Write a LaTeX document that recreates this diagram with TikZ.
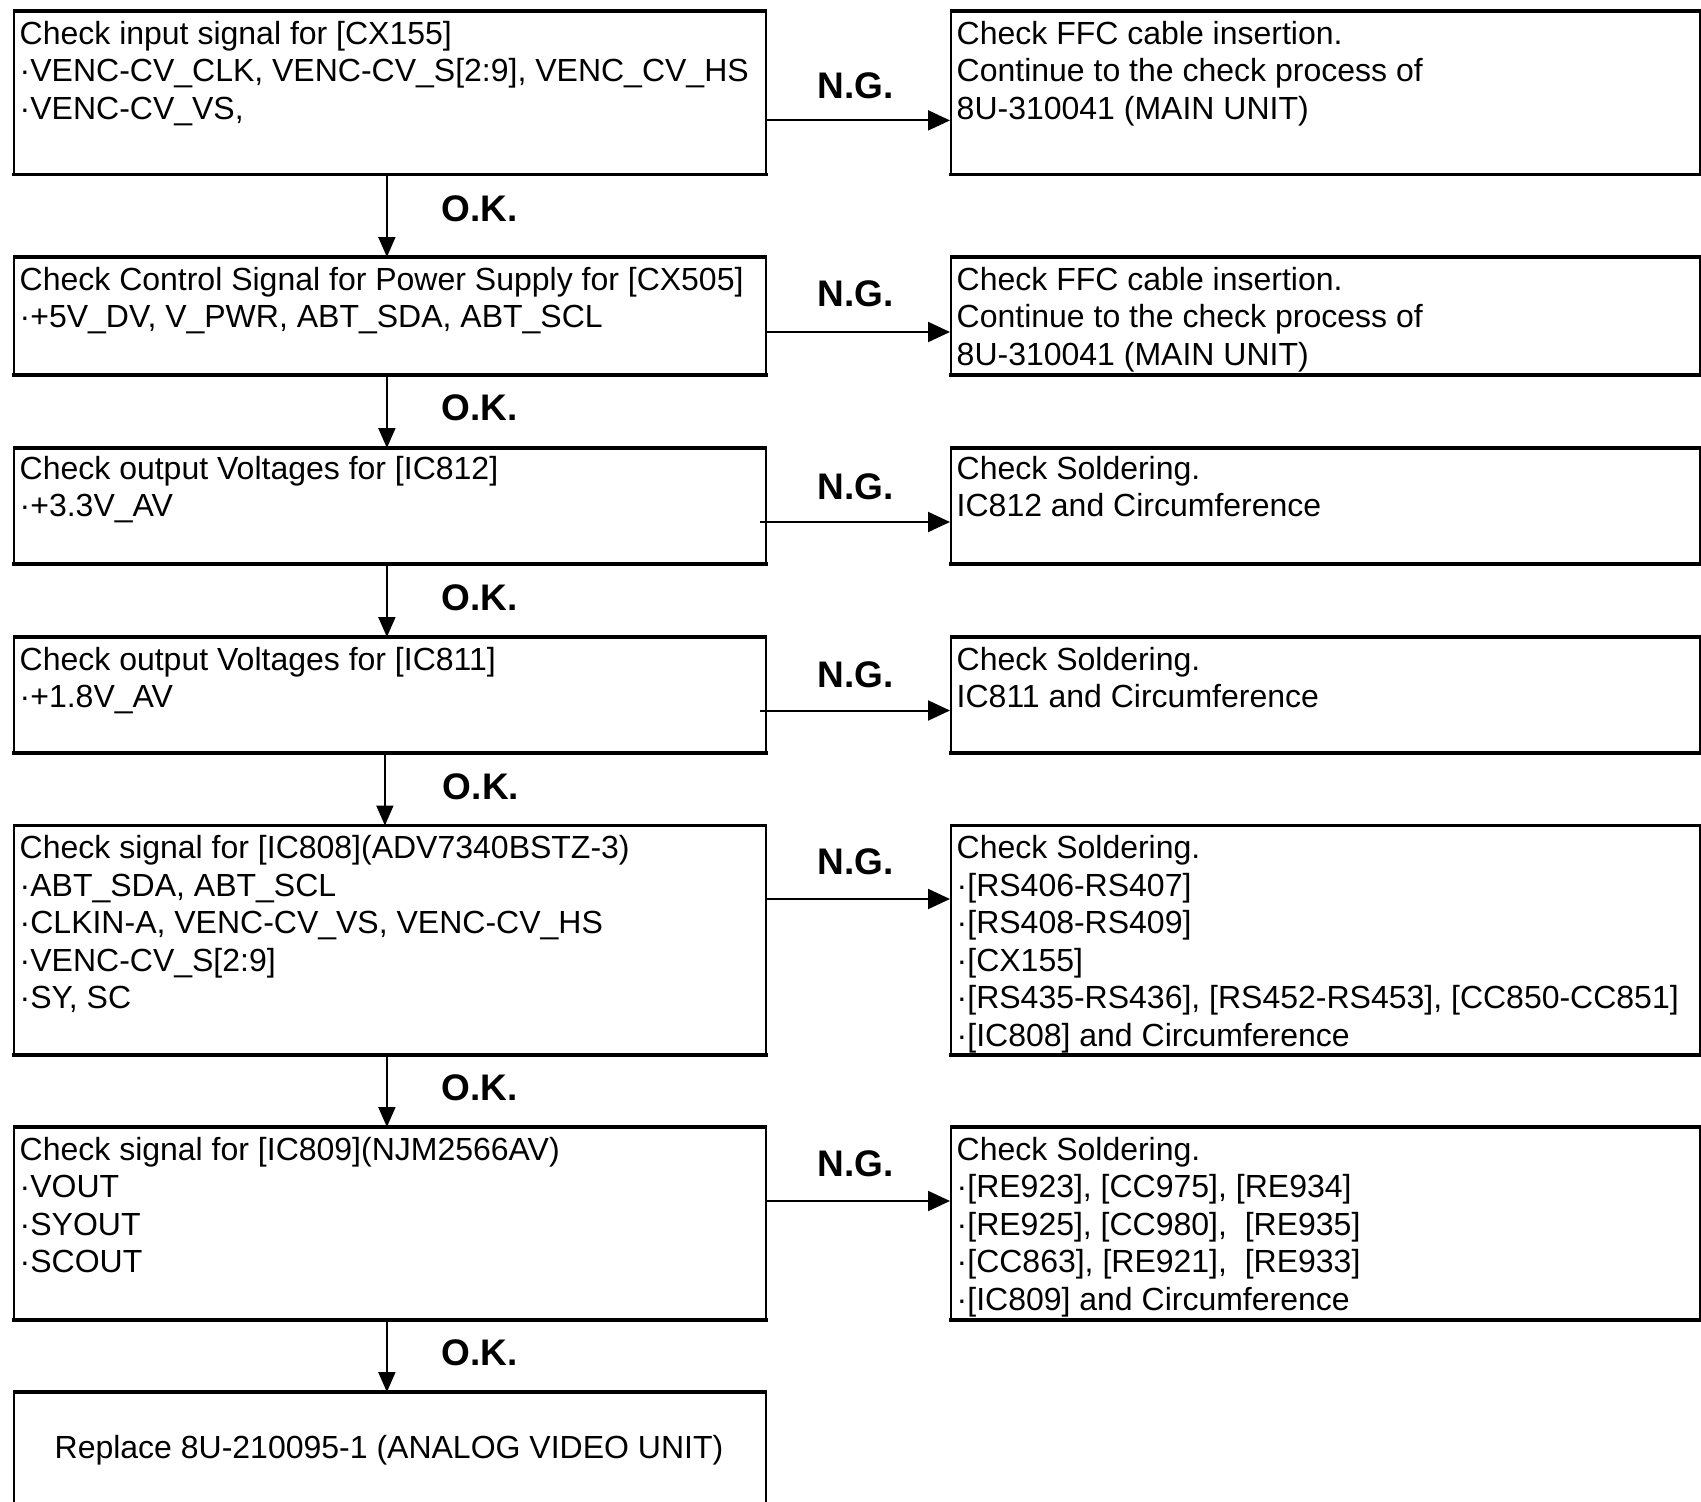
\documentclass[tikz,border=0pt]{standalone}
\usepackage{fontspec}
\setmainfont{Liberation Sans}
\usetikzlibrary{arrows.meta}
\begin{document}
\begin{tikzpicture}[x=1pt,y=-1pt,
  lbox/.style={draw, line width=1.8pt, rectangle, minimum width=752pt, inner sep=0pt, anchor=north west},
  rbox/.style={draw, line width=1.8pt, rectangle, minimum width=749pt, inner sep=0pt, anchor=north west},
  hline/.style={line width=3.6pt, line cap=butt, shorten <=-0.9pt, shorten >=-0.9pt},
  txt/.style={anchor=north west, inner sep=0pt, align=left, font=\fontsize{32}{37.5}\selectfont, execute at begin node={\rule{0pt}{26pt}}},
  lab/.style={inner sep=0pt, font=\fontsize{37}{40}\selectfont\bfseries},
  ngarrow/.style={line width=2pt, -{Triangle[length=22pt,width=20pt]}},
  okarrow/.style={line width=2pt, -{Triangle[length=20pt,width=17pt]}}
]
\clip (0,0) rectangle (1701,1502);
% left boxes
\node[lbox, minimum height=161.5pt] (L1) at (13,11) {};
\node[lbox, minimum height=116pt] (L2) at (13,257) {};
\node[lbox, minimum height=114pt] (L3) at (13,448) {};
\node[lbox, minimum height=114pt] (L4) at (13,637) {};
\node[lbox, minimum height=227.5pt] (L5) at (13,825.5) {};
\node[lbox, minimum height=191pt] (L6) at (13,1127) {};
\node[lbox, minimum height=150pt] (L7) at (13,1392) {};
% right boxes
\node[rbox, minimum height=161.5pt] (R1) at (950,11) {};
\node[rbox, minimum height=116pt] (R2) at (950,257) {};
\node[rbox, minimum height=114pt] (R3) at (950,448) {};
\node[rbox, minimum height=114pt] (R4) at (950,637) {};
\node[rbox, minimum height=227.5pt] (R5) at (950,825.5) {};
\node[rbox, minimum height=191pt] (R6) at (950,1127) {};
\foreach \b in {L1,L2,L3,L4,L5,L6,L7,R1,R2,R3,R4,R5,R6}
  \draw[hline] (\b.north west) -- (\b.north east) (\b.south west) -- (\b.south east);
% texts
\node[txt] (t1) at ([shift={(6.5,10)}]L1.north west) {Check input signal for [CX155]\\·VENC-CV\_CLK, VENC-CV\_S[2:9], VENC\_CV\_HS\\·VENC-CV\_VS,};
\node[txt] (t2) at ([shift={(6.5,10)}]L2.north west) {Check Control Signal for Power Supply for [CX505]\\·+5V\_DV, V\_PWR, ABT\_SDA, ABT\_SCL};
\node[txt] (t3) at ([shift={(6.5,8)}]L3.north west) {Check output Voltages for [IC812]\\·+3.3V\_AV};
\node[txt] (t4) at ([shift={(6.5,10)}]L4.north west) {Check output Voltages for [IC811]\\·+1.8V\_AV};
\node[txt] (t5) at ([shift={(6.5,10)}]L5.north west) {Check signal for [IC808](ADV7340BSTZ-3)\\·ABT\_SDA, ABT\_SCL\\·CLKIN-A, VENC-CV\_VS, VENC-CV\_HS\\·VENC-CV\_S[2:9]\\·SY, SC};
\node[txt] (t6) at ([shift={(6.5,10)}]L6.north west) {Check signal for [IC809](NJM2566AV)\\·VOUT\\·SYOUT\\·SCOUT};
\node[inner sep=0pt, font=\fontsize{32}{37.5}\selectfont] (t7) at (389,1450) {Replace 8U-210095-1 (ANALOG VIDEO UNIT)};
\node[txt] (u1) at ([shift={(6.5,10)}]R1.north west) {Check FFC cable insertion.\\Continue to the check process of\\8U-310041 (MAIN UNIT)};
\node[txt] (u2) at ([shift={(6.5,10)}]R2.north west) {Check FFC cable insertion.\\Continue to the check process of\\8U-310041 (MAIN UNIT)};
\node[txt] (u3) at ([shift={(6.5,8)}]R3.north west) {Check Soldering.\\IC812 and Circumference};
\node[txt] (u4) at ([shift={(6.5,10)}]R4.north west) {Check Soldering.\\IC811 and Circumference};
\node[txt] (u5) at ([shift={(6.5,10)}]R5.north west) {Check Soldering.\\·[RS406-RS407]\\·[RS408-RS409]\\·[CX155]\\·[RS435-RS436], [RS452-RS453], [CC850-CC851]\\·[IC808] and Circumference};
\node[txt] (u6) at ([shift={(6.5,10)}]R6.north west) {Check Soldering.\\·[RE923], [CC975], [RE934]\\·[RE925], [CC980],~~[RE935]\\·[CC863], [RE921],~~[RE933]\\·[IC809] and Circumference};
% arrow levels
\coordinate (a1) at (0,120.4);
\coordinate (a2) at (0,332);
\coordinate (a3) at (0,522);
\coordinate (a4) at (0,710.5);
\coordinate (a5) at (0,899);
\coordinate (a6) at (0,1201);
\draw[ngarrow] (L1.east |- a1) -- (R1.west |- a1);
\draw[ngarrow] (L2.east |- a2) -- (R2.west |- a2);
\draw[ngarrow] ([xshift=-7pt]L3.east |- a3) -- (R3.west |- a3);
\draw[ngarrow] ([xshift=-7pt]L4.east |- a4) -- (R4.west |- a4);
\draw[ngarrow] (L5.east |- a5) -- (R5.west |- a5);
\draw[ngarrow] (L6.east |- a6) -- (R6.west |- a6);
\draw[okarrow] ([xshift=-3pt]L1.south) -- ([xshift=-3pt]L2.north);
\draw[okarrow] ([xshift=-3pt]L2.south) -- ([xshift=-3pt]L3.north);
\draw[okarrow] ([xshift=-3pt]L3.south) -- ([xshift=-3pt]L4.north);
\draw[okarrow] ([xshift=-5pt]L4.south) -- ([xshift=-5pt]L5.north);
\draw[okarrow] ([xshift=-3pt]L5.south) -- ([xshift=-3pt]L6.north);
\draw[okarrow] ([xshift=-3pt]L6.south) -- ([xshift=-3pt]L7.north);
% labels
\node[lab] (ng1) at (856,85.7) {N.G.};
\node[lab] (ng2) at (856,294) {N.G.};
\node[lab] (ng3) at (856,487) {N.G.};
\node[lab] (ng4) at (856,675) {N.G.};
\node[lab] (ng5) at (856,862) {N.G.};
\node[lab] (ng6) at (856,1164) {N.G.};
\node[lab] (ok1) at (479.5,209) {O.K.};
\node[lab] (ok2) at (479.5,408) {O.K.};
\node[lab] (ok3) at (479.5,598) {O.K.};
\node[lab] (ok4) at (481,786.5) {O.K.};
\node[lab] (ok5) at (479.5,1088) {O.K.};
\node[lab] (ok6) at (479.5,1353) {O.K.};
\end{tikzpicture}
\end{document}
